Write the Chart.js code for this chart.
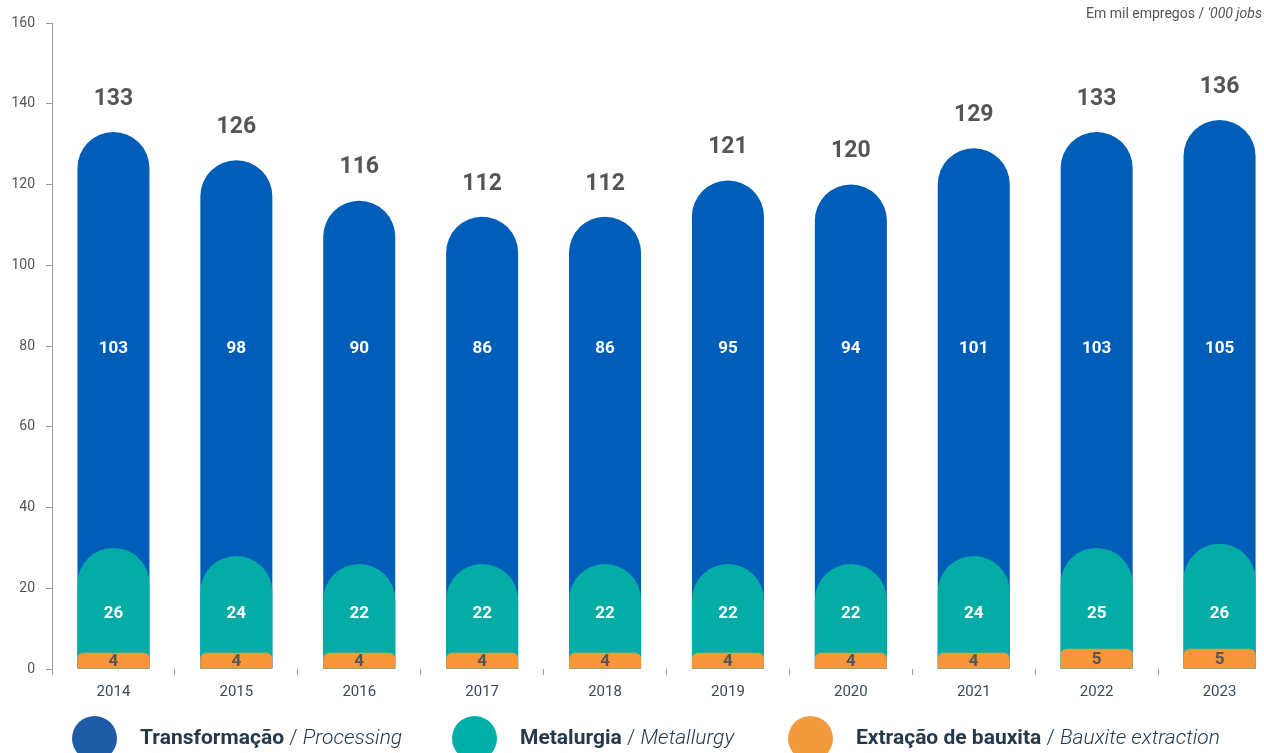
<!DOCTYPE html>
<html>
<head>
<meta charset="utf-8">
<script src="https://cdn.jsdelivr.net/npm/chart.js@4/dist/chart.umd.min.js"></script>
<style>
  html, body { margin: 0; padding: 0; background: #fff; overflow: hidden; width: 1264px; height: 753px; }
  #wrap { position: relative; width: 1290px; height: 753px; }
  #chart { display: block; }
  #unit { position: absolute; right: 28px; top: 5px; font: 14px Roboto, sans-serif; color: #555; }
  #unit i { font-style: italic; }
  .leg { position: absolute; top: 716px; display: flex; align-items: flex-start; font: 21px Roboto, sans-serif; color: #25394a; white-space: nowrap; }
  .leg span.dot { width: 45px; height: 45px; border-radius: 50%; margin-right: 23px; }
  .leg .txt { margin-top: 9px; }
  .leg b { font-weight: 700; }
  .leg i { font-style: italic; font-weight: 300; }
  .leg .sl { font-weight: 300; }
</style>
</head>
<body>
<div id="wrap">
  <canvas id="chart" width="1290" height="753"></canvas>
  <div id="unit">Em mil empregos / <i>'000 jobs</i></div>
  <div class="leg" style="left:72px"><span class="dot" style="background:#1f5ca8"></span><span class="txt"><b>Transformação</b> <span class="sl">/</span> <i>Processing</i></span></div>
  <div class="leg" style="left:452px"><span class="dot" style="background:#00b0a8"></span><span class="txt"><b>Metalurgia</b> <span class="sl">/</span> <i>Metallurgy</i></span></div>
  <div class="leg" style="left:788px"><span class="dot" style="background:#f39a3d"></span><span class="txt"><b>Extração de bauxita</b> <span class="sl">/</span> <i>Bauxite extraction</i></span></div>
</div>
<script>
const years = ['2014', '2015', '2016', '2017', '2018', '2019', '2020', '2021', '2022', '2023'];
const processing = [103, 98, 90, 86, 86, 95, 94, 101, 103, 105];
const metallurgy = [26, 24, 22, 22, 22, 22, 22, 24, 25, 26];
const bauxite = [4, 4, 4, 4, 4, 4, 4, 4, 5, 5];

const colors = {
  blue: '#005eb8',
  teal: '#03ada6',
  orange: '#f7973a',
};

// bars overlap: each one goes from 0 to the running total
const cumMetal = metallurgy.map((v, i) => v + bauxite[i]);
const cumTotal = processing.map((v, i) => v + cumMetal[i]);

const labelsPlugin = {
  id: 'valueLabels',
  afterDatasetsDraw(chart) {
    const { ctx } = chart;
    const x = chart.scales.x;
    const y = chart.scales.y;
    ctx.save();
    ctx.textAlign = 'center';
    ctx.textBaseline = 'middle';
    years.forEach((yr, i) => {
      const px = x.getPixelForValue(i);
      ctx.fillStyle = '#555';
      ctx.font = 'bold 23px Roboto';
      ctx.fillText(cumTotal[i], px, y.getPixelForValue(cumTotal[i]) - 33);
      ctx.fillStyle = '#fff';
      ctx.font = 'bold 17px Roboto';
      ctx.fillText(processing[i], px, y.getPixelForValue(79.3));
      ctx.fillText(metallurgy[i], px, y.getPixelForValue(13.6));
      ctx.fillStyle = '#555';
      ctx.fillText(bauxite[i], px, y.getPixelForValue(bauxite[i] / 2) + 1);
    });
    ctx.restore();
  },
};

new Chart(document.getElementById('chart'), {
  type: 'bar',
  data: {
    labels: years,
    datasets: [
      { label: 'Extração de bauxita', data: bauxite, backgroundColor: colors.orange, borderRadius: { topLeft: 6, topRight: 6 } },
      { label: 'Metalurgia', data: cumMetal, backgroundColor: colors.teal, borderRadius: { topLeft: 40, topRight: 40 } },
      { label: 'Transformação', data: cumTotal, backgroundColor: colors.blue, borderRadius: { topLeft: 40, topRight: 40 } },
    ],
  },
  plugins: [labelsPlugin],
  options: {
    responsive: false,
    animation: false,
    devicePixelRatio: 1,
    layout: { padding: { top: 23, right: 9, bottom: 44, left: 0 } },
    datasets: {
      bar: { grouped: false, categoryPercentage: 1, barPercentage: 0.586, borderSkipped: 'start' },
    },
    plugins: { legend: { display: false }, tooltip: { enabled: false } },
    scales: {
      x: {
        grid: { drawOnChartArea: false, drawTicks: true, tickLength: 6, offset: true, color: '#999' },
        border: { display: false },
        ticks: { color: '#3d4a55', font: { family: 'Roboto', size: 15 }, padding: 8, maxRotation: 0 },
        afterFit(s) { s.height = 40; },
      },
      y: {
        min: 0,
        max: 160,
        grid: { drawOnChartArea: false, tickLength: 6, color: '#999' },
        border: { display: true, color: '#999' },
        ticks: { stepSize: 20, color: '#555', font: { family: 'Roboto', size: 14 }, padding: 11 },
        afterFit(s) { s.width = 52; },
      },
    },
  },
});
</script>
</body>
</html>
